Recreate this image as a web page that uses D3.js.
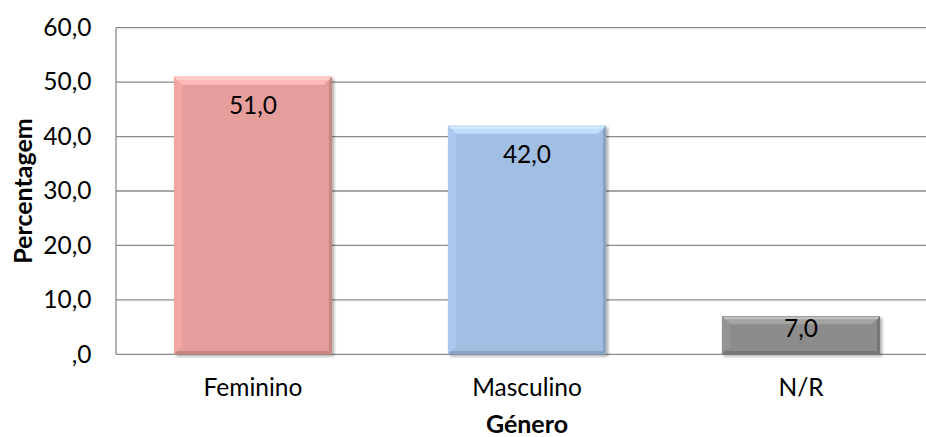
<!DOCTYPE html>
<html>
<head>
<meta charset="utf-8">
<script src="https://cdn.jsdelivr.net/npm/d3@7"></script>
<style>
  html, body { margin: 0; padding: 0; background: #fff; }
  svg { display: block; font-family: Lato, "Open Sans", sans-serif; }
</style>
</head>
<body>
<svg id="chart" width="926" height="437"></svg>
<script>
// Distribuição por género (percentagem)
const categories = ["Feminino", "Masculino", "N/R"];
const values = [51.0, 42.0, 7.0];
const barColors = ["#E59E9C", "#A3BEE3", "#8C8C8C"];
const yTicks = [0, 10, 20, 30, 40, 50, 60];
const xTitle = "Género";
const yTitle = "Percentagem";

const fmt = v => {
  const s = v.toFixed(1).replace(".", ",");
  return s.startsWith("0,") ? s.slice(1) : s;
};

const FONT = 24.5;
const TITLE_FONT = 25;

const svg = d3.select("#chart");
const plot = { left: 116, right: 938, top: 27.7, bottom: 354.3 };

const x = d3.scaleBand()
  .domain(categories)
  .range([plot.left, plot.right])
  .paddingInner(0.423)
  .paddingOuter(0.2115);

const y = d3.scaleLinear()
  .domain([0, 60])
  .range([plot.bottom, plot.top]);

const defs = svg.append("defs");
const shadow = defs.append("filter").attr("id", "barShadow")
  .attr("x", "-10%").attr("y", "-10%").attr("width", "130%").attr("height", "130%");
shadow.append("feDropShadow")
  .attr("dx", 2).attr("dy", 2).attr("stdDeviation", 1.6)
  .attr("flood-color", "#000").attr("flood-opacity", 0.35);

// Gridlines
svg.append("g")
  .selectAll("line")
  .data(yTicks)
  .join("line")
  .attr("x1", plot.left).attr("x2", plot.right)
  .attr("y1", d => y(d)).attr("y2", d => y(d))
  .attr("stroke", "#8a8a8a").attr("stroke-width", 1.3);

// Left axis line
svg.append("line")
  .attr("x1", plot.left).attr("x2", plot.left)
  .attr("y1", plot.top).attr("y2", plot.bottom)
  .attr("stroke", "#8a8a8a").attr("stroke-width", 1.3);

// Y tick labels
const yAxis = d3.axisLeft(y).tickValues(yTicks).tickFormat(fmt).tickSize(0).tickPadding(24.5);
const ya = svg.append("g").attr("transform", `translate(${plot.left},0)`).call(yAxis);
ya.select(".domain").remove();
ya.selectAll("text").attr("font-size", FONT).attr("fill", "#000").attr("font-family", "Lato, sans-serif");

// Bars with bevelled edges
const bev = 8;
const bars = svg.append("g").selectAll("g.bar")
  .data(categories.map((c, i) => ({ c, v: values[i], color: barColors[i] })))
  .join("g").attr("class", "bar");

bars.each(function(d) {
  const g = d3.select(this);
  const x0 = x(d.c), w = x.bandwidth();
  const y0 = y(d.v), y1 = y(0);
  const h = y1 - y0;
  const b = Math.min(bev, h / 2);
  const base = d3.color(d.color);
  g.append("rect")
    .attr("x", x0).attr("y", y0).attr("width", w).attr("height", h)
    .attr("fill", d.color).attr("filter", "url(#barShadow)");
  // top bevel (light)
  g.append("path")
    .attr("d", `M${x0},${y0}L${x0 + w},${y0}L${x0 + w - b},${y0 + b}L${x0 + b},${y0 + b}Z`)
    .attr("fill", base.brighter(0.45));
  // left bevel (slightly light)
  g.append("path")
    .attr("d", `M${x0},${y0}L${x0 + b},${y0 + b}L${x0 + b},${y1 - b}L${x0},${y1}Z`)
    .attr("fill", base.brighter(0.15));
  // right bevel (dark)
  g.append("path")
    .attr("d", `M${x0 + w},${y0}L${x0 + w},${y1}L${x0 + w - b / 2.5},${y1 - b / 2.5}L${x0 + w - b / 2.5},${y0 + b / 2.5}Z`)
    .attr("fill", base.darker(0.45));
  // bottom bevel (dark)
  g.append("path")
    .attr("d", `M${x0},${y1}L${x0 + w},${y1}L${x0 + w - b / 2.5},${y1 - b / 2.5}L${x0 + b / 2.5},${y1 - b / 2.5}Z`)
    .attr("fill", base.darker(0.45));
  // top highlight line
  g.append("line")
    .attr("x1", x0 + 2).attr("x2", x0 + w - 2).attr("y1", y0 + 2).attr("y2", y0 + 2)
    .attr("stroke", "#fff").attr("stroke-opacity", 0.35).attr("stroke-width", 2);

  // value label (inside end)
  const ly = Math.min(y0 + 28, (y0 + y1) / 2 - 8);
  g.append("text")
    .attr("x", x0 + w / 2).attr("y", ly)
    .attr("text-anchor", "middle").attr("dominant-baseline", "central")
    .attr("font-size", FONT).attr("fill", "#000")
    .text(fmt(d.v));
});

// X category labels
const xAxis = d3.axisBottom(x).tickSize(0).tickPadding(24);
const xa = svg.append("g").attr("transform", `translate(0,${plot.bottom})`).call(xAxis);
xa.select(".domain").remove();
xa.selectAll("text").attr("font-size", FONT).attr("fill", "#000").attr("font-family", "Lato, sans-serif");

// Axis titles
svg.append("text")
  .attr("x", (x("Masculino") + x.bandwidth() / 2)).attr("y", 433)
  .attr("text-anchor", "middle")
  .attr("font-size", TITLE_FONT).attr("font-weight", "bold").attr("fill", "#000")
  .text(xTitle);

svg.append("text")
  .attr("transform", `translate(22,${(plot.top + plot.bottom) / 2}) rotate(-90)`)
  .attr("text-anchor", "middle").attr("dominant-baseline", "central")
  .attr("font-size", TITLE_FONT).attr("font-weight", "bold").attr("fill", "#000")
  .text(yTitle);
</script>
</body>
</html>
